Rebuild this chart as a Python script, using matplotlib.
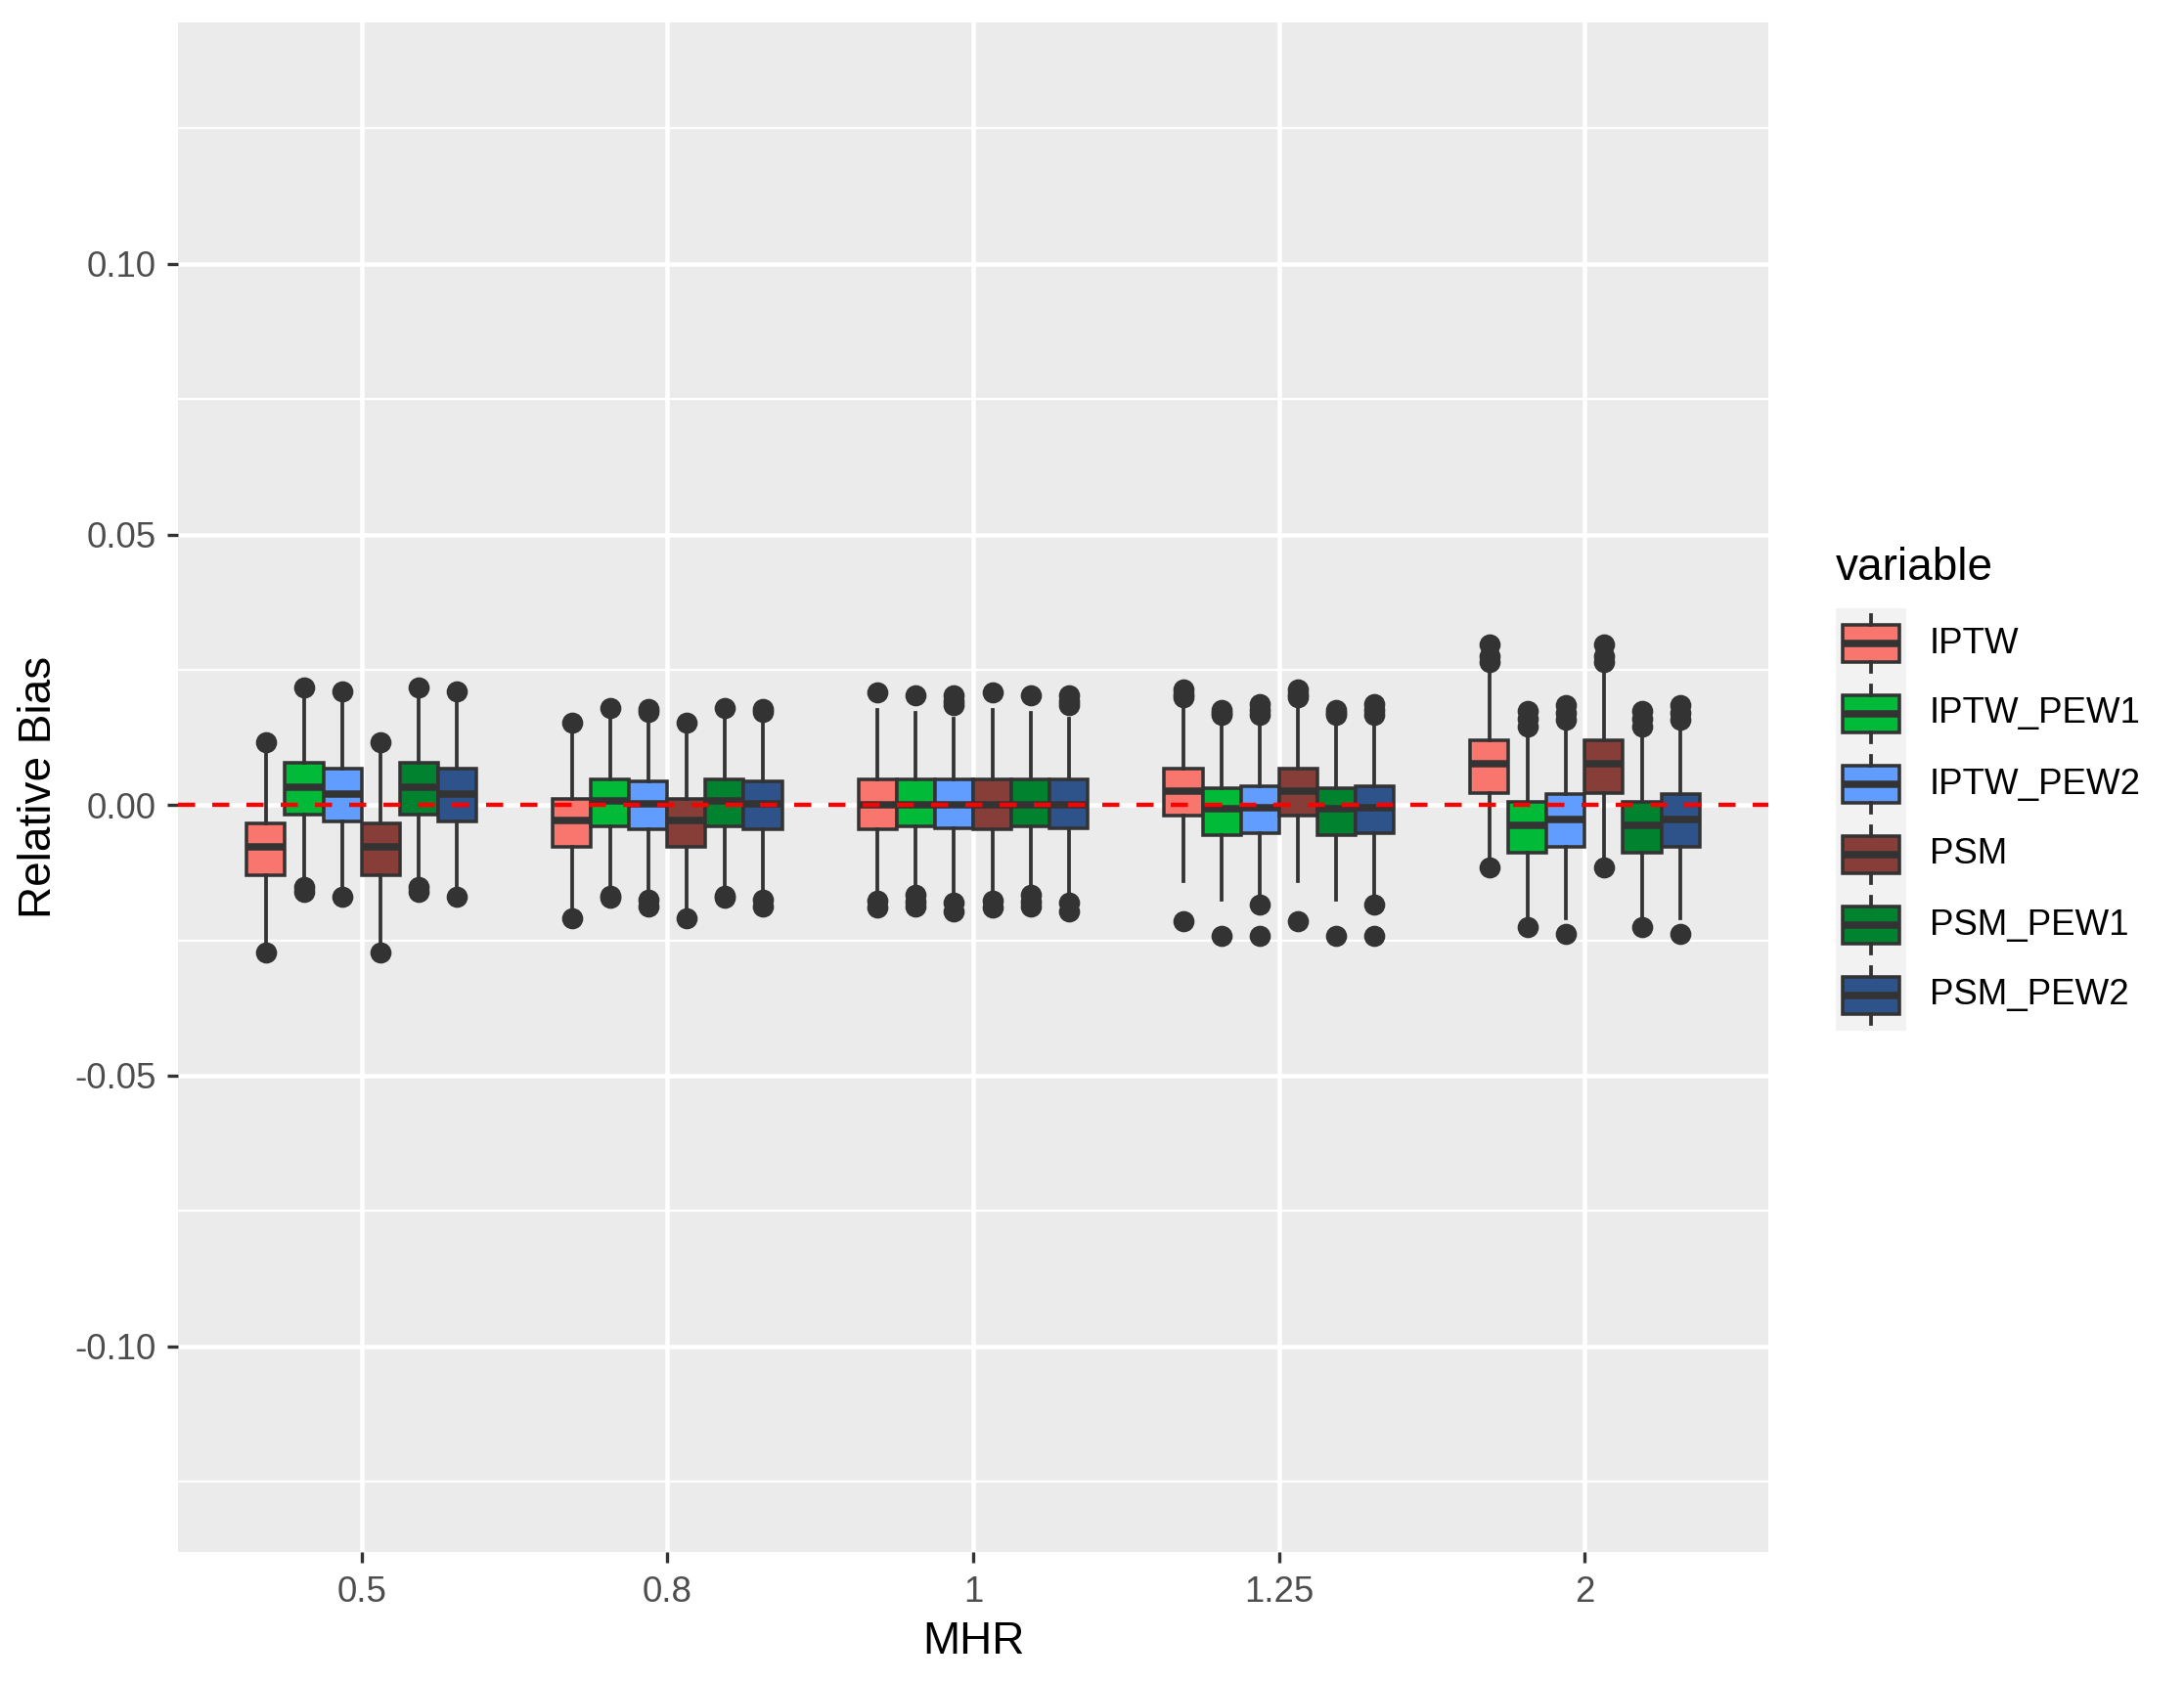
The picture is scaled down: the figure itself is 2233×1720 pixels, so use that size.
import matplotlib
matplotlib.use("Agg")
import matplotlib.pyplot as plt

plt.rcParams['font.family'] = ['Liberation Sans', 'DejaVu Sans']

# MHR groups on the x axis
mhr = ["0.5", "0.8", "1", "1.25", "2"]
methods = ["IPTW", "IPTW_PEW1", "IPTW_PEW2", "PSM", "PSM_PEW1", "PSM_PEW2"]
colors = ["#F8766D", "#00BA38", "#619CFF", "#873E38", "#00822F", "#2E528A"]

# box statistics: one row per method, one column per MHR
q3 = [[-0.0033, 0.0012, 0.0048, 0.0068, 0.0120],
      [0.0079, 0.0047, 0.0048, 0.0032, 0.0006],
      [0.0067, 0.0044, 0.0047, 0.0035, 0.0020],
      [-0.0033, 0.0012, 0.0048, 0.0068, 0.0120],
      [0.0079, 0.0047, 0.0048, 0.0032, 0.0006],
      [0.0067, 0.0044, 0.0047, 0.0035, 0.0020]]
med = [[-0.0078, -0.0028, 0.0000, 0.0026, 0.0077],
       [0.0033, 0.0008, 0.0001, -0.0006, -0.0037],
       [0.0020, 0.0002, 0.0000, -0.0005, -0.0026],
       [-0.0078, -0.0028, 0.0000, 0.0026, 0.0077],
       [0.0033, 0.0008, 0.0001, -0.0006, -0.0037],
       [0.0020, 0.0002, 0.0000, -0.0005, -0.0026]]
q1 = [[-0.0129, -0.0077, -0.0044, -0.0019, 0.0023],
      [-0.0017, -0.0040, -0.0040, -0.0055, -0.0088],
      [-0.0030, -0.0045, -0.0042, -0.0052, -0.0077],
      [-0.0129, -0.0077, -0.0044, -0.0019, 0.0023],
      [-0.0017, -0.0040, -0.0040, -0.0055, -0.0088],
      [-0.0030, -0.0045, -0.0042, -0.0052, -0.0077]]
whis_hi = [[0.0103, 0.0136, 0.0176, 0.0182, 0.0242],
           [0.0202, 0.0163, 0.0170, 0.0148, 0.0125],
           [0.0193, 0.0160, 0.0160, 0.0150, 0.0144],
           [0.0103, 0.0136, 0.0176, 0.0182, 0.0242],
           [0.0202, 0.0163, 0.0170, 0.0148, 0.0125],
           [0.0193, 0.0160, 0.0160, 0.0150, 0.0144]]
whis_lo = [[-0.0259, -0.0193, -0.0162, -0.0141, -0.0099],
           [-0.0141, -0.0153, -0.0156, -0.0175, -0.0210],
           [-0.0156, -0.0160, -0.0160, -0.0165, -0.0210],
           [-0.0259, -0.0193, -0.0162, -0.0141, -0.0099],
           [-0.0141, -0.0153, -0.0156, -0.0175, -0.0210],
           [-0.0156, -0.0160, -0.0160, -0.0165, -0.0210]]
outliers = [
    [[0.0117, -0.0273], [0.0153, -0.0209], [0.0208, -0.0177, -0.0190],
     [0.0214, 0.0205, 0.0199, -0.0214], [0.0296, 0.0275, 0.0265, -0.0116]],
    [[0.0217, -0.0152, -0.0160], [0.0180, -0.0168, -0.0172], [0.0202, -0.0165, -0.0178, -0.0188],
     [0.0175, 0.0170, 0.0166, -0.0242], [0.0174, 0.0160, 0.0145, -0.0226]],
    [[0.0210, -0.0170], [0.0178, 0.0172, -0.0175, -0.0188], [0.0202, 0.0192, 0.0184, -0.0180, -0.0196],
     [0.0187, 0.0176, 0.0166, -0.0183, -0.0242], [0.0184, 0.0170, 0.0157, -0.0238]],
    [[0.0117, -0.0273], [0.0153, -0.0209], [0.0208, -0.0177, -0.0190],
     [0.0214, 0.0205, 0.0199, -0.0214], [0.0296, 0.0275, 0.0265, -0.0116]],
    [[0.0217, -0.0152, -0.0160], [0.0180, -0.0168, -0.0172], [0.0202, -0.0165, -0.0178, -0.0188],
     [0.0175, 0.0170, 0.0166, -0.0242], [0.0174, 0.0160, 0.0145, -0.0226]],
    [[0.0210, -0.0170], [0.0178, 0.0172, -0.0175, -0.0188], [0.0202, 0.0192, 0.0184, -0.0180, -0.0196],
     [0.0187, 0.0176, 0.0166, -0.0183, -0.0242], [0.0184, 0.0170, 0.0157, -0.0238]],
]

yticks = [-0.10, -0.05, 0.00, 0.05, 0.10]
ytick_labels = ["-0.10", "-0.05", "0.00", "0.05", "0.10"]

W, H = 2233, 1720
fig = plt.figure(figsize=(W / 300, H / 300), dpi=300)
ax = fig.add_axes([182 / W, 1 - 1587 / H, (1808 - 182) / W, (1587 - 23) / H])
ax.set_facecolor("#EBEBEB")
for s in ax.spines.values():
    s.set_visible(False)

edge = "#333333"
dodge = 0.75 / len(methods)
for j, m in enumerate(methods):
    stats = []
    pos = []
    for g in range(len(mhr)):
        stats.append(dict(med=med[j][g], q1=q1[j][g], q3=q3[j][g],
                          whislo=whis_lo[j][g], whishi=whis_hi[j][g],
                          fliers=outliers[j][g]))
        pos.append(g + 1 + (j - (len(methods) - 1) / 2) * dodge)
    ax.bxp(stats, positions=pos, widths=dodge, patch_artist=True, showcaps=False,
           boxprops=dict(facecolor=colors[j], edgecolor=edge, linewidth=0.85),
           medianprops=dict(color=edge, linewidth=1.8),
           whiskerprops=dict(color=edge, linewidth=0.9),
           flierprops=dict(marker="o", markerfacecolor=edge, markeredgecolor=edge,
                           markersize=4.2, linestyle="none"))

ax.axhline(0, color="red", linestyle=(0, (4, 4)), linewidth=1.05, zorder=6)

ax.set_xlim(0.4, len(mhr) + 0.6)
ax.set_ylim(-0.138, 0.1446)
ax.set_xticks(range(1, len(mhr) + 1))
ax.set_xticklabels(mhr)
ax.set_yticks(yticks)
ax.set_yticklabels(ytick_labels)
ax.set_yticks([-0.125, -0.075, -0.025, 0.025, 0.075, 0.125], minor=True)
ax.set_axisbelow(True)
ax.grid(True, which="major", color="white", linewidth=1.1)
ax.grid(True, which="minor", axis="y", color="white", linewidth=0.55)
ax.tick_params(axis="both", which="major", length=2.75, width=0.8, color=edge,
               labelcolor="#4D4D4D", labelsize=8.8)
ax.tick_params(axis="x", pad=3)
ax.tick_params(axis="y", pad=2.6)
ax.tick_params(which="minor", length=0)

ax.set_xlabel("MHR", fontsize=11)
ax.xaxis.set_label_coords(0.5, (1587 - 1679) / (1587 - 23))
ax.xaxis.label.set_va("center")
ax.set_ylabel("Relative Bias", fontsize=11)
ax.yaxis.set_label_coords((40 - 182) / (1808 - 182), 0.5)
ax.yaxis.label.set_va("center")

# legend: one small key panel per method
fig.text(1877 / W, 1 - 593 / H, "variable", fontsize=11, va="baseline", ha="left")
key = 72
for j, m in enumerate(methods):
    top = 622 + key * j
    kax = fig.add_axes([1877 / W, 1 - (top + key) / H, key / W, key / H])
    kax.set_facecolor("#F2F2F2")
    for s in kax.spines.values():
        s.set_visible(False)
    kax.set_xticks([])
    kax.set_yticks([])
    kax.set_xlim(0, 1)
    kax.set_ylim(0, 1)
    kax.bxp([dict(med=0.5, q1=0.235, q3=0.765, whislo=0.1, whishi=0.9, fliers=[])],
            positions=[0.5], widths=0.8, patch_artist=True, showcaps=False, showfliers=False,
            boxprops=dict(facecolor=colors[j], edgecolor=edge, linewidth=0.85),
            medianprops=dict(color=edge, linewidth=1.8),
            whiskerprops=dict(color=edge, linewidth=0.9))
    kax.set_xlim(0, 1)
    kax.set_xticks([])
    fig.text(1973 / W, 1 - (top + key / 2) / H, m, fontsize=8.8, va="center", ha="left")

fig.savefig("out.png", dpi=300)
